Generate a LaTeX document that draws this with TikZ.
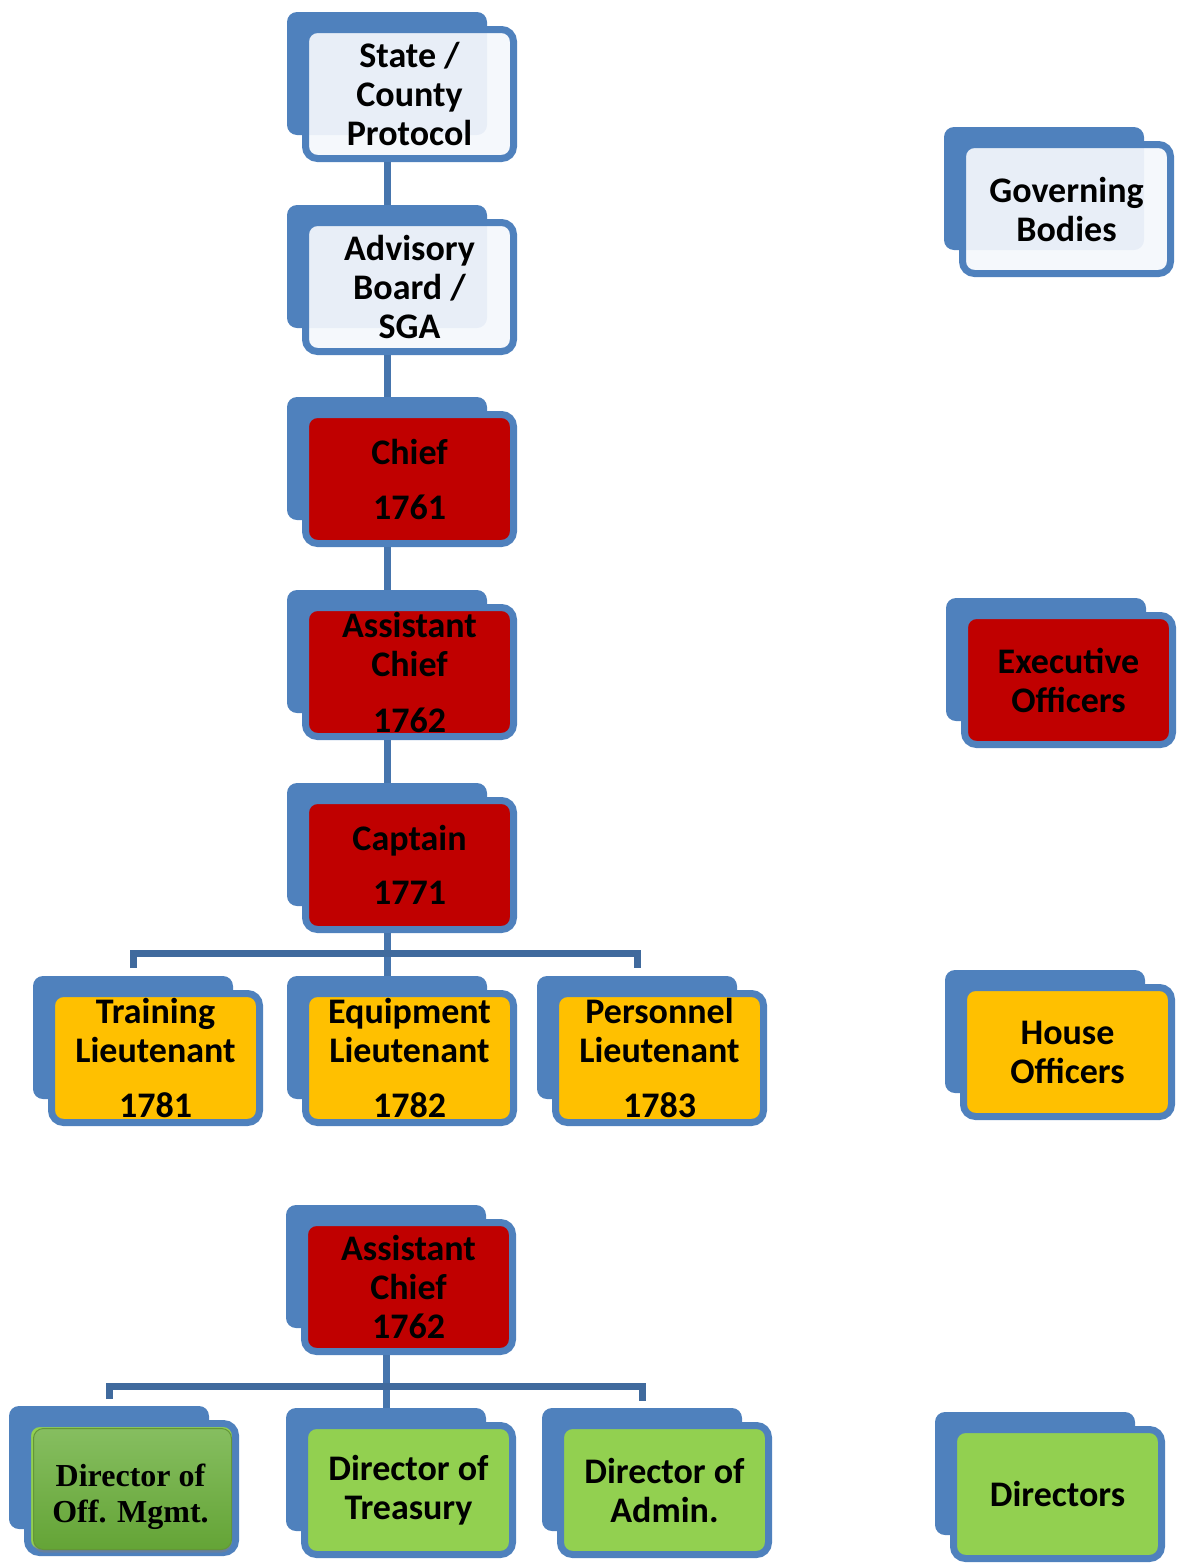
\documentclass[tikz,border=0pt]{standalone}
\usepackage{fontspec}
\setmainfont{Carlito}
\newfontfamily\tnrfont{Liberation Serif}
\usetikzlibrary{calc,shadows}
\definecolor{sablue}{RGB}{79,129,189}
\definecolor{conncol}{RGB}{70,117,173}
\definecolor{busdark}{RGB}{64,106,157}
\definecolor{lightfill}{RGB}{244,247,252}
\definecolor{redfill}{RGB}{192,0,0}
\definecolor{yelfill}{RGB}{255,192,0}
\definecolor{grnfill}{RGB}{146,208,80}
\definecolor{grntop}{RGB}{134,190,96}
\definecolor{grnbot}{RGB}{100,164,54}
\definecolor{grnedge}{RGB}{100,150,55}
\tikzset{
 backbox/.style={fill=sablue, rounded corners=10pt, minimum width=200pt, minimum height=123pt, inner sep=0pt, outer sep=0pt},
 frontbox/.style={draw=sablue, line width=7pt, rounded corners=12pt, minimum width=208pt, minimum height=129pt, inner sep=0pt, align=center, font=\fontsize{36}{39}\selectfont\bfseries},
 lightbox/.style={frontbox, fill=lightfill, fill opacity=0.93, text opacity=1},
 redbox/.style={frontbox, fill=redfill},
 yelbox/.style={frontbox, fill=yelfill},
 grnbox/.style={frontbox, fill=grnfill},
 conn/.style={draw=conncol, line width=7pt},
 busline/.style={draw=busdark, line width=7pt},
 innergreen/.style={draw=grnedge, line width=1pt, rounded corners=10pt, top color=grntop, bottom color=grnbot, minimum width=198pt, minimum height=121pt, inner sep=0pt, align=center, drop shadow={opacity=0.45, shadow xshift=0pt, shadow yshift=-3pt}},
}
\newcommand\orgunit[5]{%
 \node[backbox] (#1b) at (#2+100, #3+61.5) {};
 \node[#4] (#1) at (#2+122.5, #3+82) {#5};
}
\begin{document}
\begin{tikzpicture}[x=1pt, y=-1pt]
\useasboundingbox (0,0) rectangle (1177,1564);
% main chain
\orgunit{sc}{287}{12}{lightbox}{State /\\County\\Protocol}
\orgunit{adv}{287}{205}{lightbox}{Advisory\\Board /\\SGA}
\orgunit{chief}{287}{397}{redbox}{Chief\\[16pt]1761}
\orgunit{aca}{287}{590}{redbox}{Assistant\\Chief\\[17pt]1762}
\orgunit{capt}{287}{783}{redbox}{Captain\\[15pt]1771}
\orgunit{trl}{33}{976}{yelbox}{Training\\Lieutenant\\[16pt]1781}
\orgunit{eql}{287}{976}{yelbox}{Equipment\\Lieutenant\\[16pt]1782}
\orgunit{pel}{537}{976}{yelbox}{Personnel\\Lieutenant\\[16pt]1783}
% second group
\orgunit{acb}{286}{1205}{redbox}{Assistant\\Chief\\1762}
\orgunit{dom}{9}{1406}{grnbox}{}
\node[innergreen] (domi) at ($(dom.center)+(1,1)$) {};
\node[font=\tnrfont\bfseries\fontsize{32}{36}\selectfont, align=center, inner sep=0pt] (domt) at ($(domi.center)+(-2,8)$) {Director of\\Off. Mgmt.};
\orgunit{dtr}{286}{1408}{grnbox}{Director of\\Treasury}
\orgunit{dad}{542}{1408}{grnbox}{Director of\\Admin.}
% legend
\orgunit{gov}{944}{127}{lightbox}{Governing\\Bodies}
\orgunit{exe}{946}{598}{redbox}{Executive\\Officers}
\orgunit{hou}{945}{970}{yelbox}{House\\Officers}
\orgunit{dir}{935}{1412}{grnbox}{Directors}
% connectors
\draw[conn] (sc.south -| scb.south) -- (advb.north);
\draw[conn] (adv.south -| advb.south) -- (chiefb.north);
\draw[conn] (chief.south -| chiefb.south) -- (acab.north);
\draw[conn] (aca.south -| acab.south) -- (captb.north);
\coordinate (bus1) at (387,953);
\draw[conn] (capt.south -| captb.south) -- (eqlb.north);
\draw[busline] ($(trlb.north)+(0,-8)$) |- (bus1) -| ($(pelb.north)+(0,-8)$);
\coordinate (bus2) at (386,1386);
\draw[conn] (acb.south -| acbb.south) -- (dtrb.north);
\draw[busline] ($(domb.north)+(0,-7)$) |- (bus2) -| ($(dadb.north)+(0,-7)$);
\end{tikzpicture}
\end{document}
